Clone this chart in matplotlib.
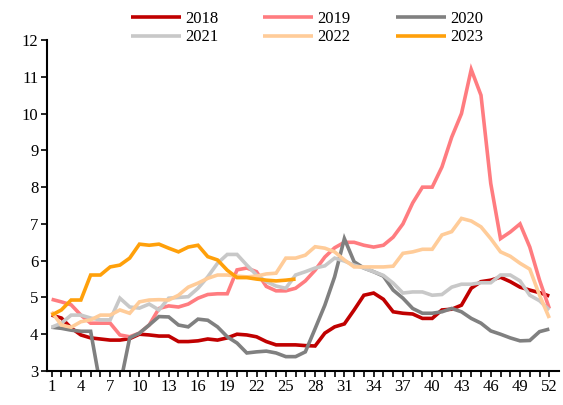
import matplotlib
matplotlib.use("Agg")
import matplotlib.pyplot as plt
import numpy as np

plt.rcParams["font.family"] = ["Liberation Serif", "DejaVu Serif"]

weeks = np.arange(1, 53)

y2018 = [4.52, 4.44, 4.17, 3.98, 3.9, 3.87, 3.84, 3.84, 3.88, 4.0, 3.98, 3.95,
         3.95, 3.8, 3.8, 3.82, 3.87, 3.84, 3.9, 4.0, 3.98, 3.93, 3.8, 3.71,
         3.71, 3.71, 3.69, 3.68, 4.03, 4.2, 4.28, 4.66, 5.06, 5.12, 4.95, 4.61,
         4.57, 4.55, 4.43, 4.43, 4.66, 4.68, 4.79, 5.25, 5.43, 5.47, 5.55, 5.43,
         5.28, 5.2, 5.13, 5.04]
y2019 = [4.95, 4.88, 4.8, 4.52, 4.3, 4.3, 4.3, 3.98, 3.93, 4.03, 4.25, 4.7,
         4.77, 4.74, 4.82, 4.98, 5.08, 5.1, 5.1, 5.75, 5.8, 5.7, 5.3, 5.18,
         5.18, 5.25, 5.45, 5.74, 6.1, 6.35, 6.5, 6.5, 6.42, 6.37, 6.42, 6.64,
         7.0, 7.57, 8.0, 8.0, 8.55, 9.36, 10.0, 11.2, 10.5, 8.1, 6.6, 6.78,
         7.0, 6.37, 5.47, 4.7]
y2020 = [4.19, 4.16, 4.11, 4.08, 4.08, 2.6, 2.5, 2.6, 3.9, 4.03, 4.25, 4.48,
         4.47, 4.25, 4.2, 4.41, 4.38, 4.2, 3.93, 3.76, 3.49, 3.52, 3.54, 3.49,
         3.39, 3.39, 3.52, 4.15, 4.79, 5.56, 6.6, 5.97, 5.8, 5.7, 5.58, 5.2,
         4.98, 4.7, 4.57, 4.57, 4.61, 4.7, 4.61, 4.43, 4.3, 4.09, 4.0, 3.9,
         3.82, 3.83, 4.07, 4.14]
y2021 = [4.19, 4.3, 4.52, 4.52, 4.44, 4.39, 4.39, 4.98, 4.74, 4.71, 4.82, 4.66,
         4.98, 5.0, 5.02, 5.25, 5.56, 5.93, 6.17, 6.17, 5.88, 5.61, 5.43, 5.31,
         5.25, 5.61, 5.7, 5.8, 5.86, 6.07, 5.99, 5.88, 5.8, 5.7, 5.6, 5.39,
         5.12, 5.15, 5.15, 5.06, 5.08, 5.28, 5.36, 5.36, 5.4, 5.4, 5.61, 5.61,
         5.45, 5.06, 4.91, 4.66]
y2022 = [4.61, 4.25, 4.19, 4.34, 4.39, 4.52, 4.52, 4.66, 4.57, 4.88, 4.93, 4.94,
         4.93, 5.06, 5.28, 5.39, 5.52, 5.61, 5.61, 5.58, 5.56, 5.58, 5.64, 5.66,
         6.07, 6.07, 6.15, 6.38, 6.34, 6.24, 6.02, 5.83, 5.83, 5.83, 5.83, 5.85,
         6.2, 6.24, 6.31, 6.31, 6.7, 6.79, 7.15, 7.08, 6.92, 6.6, 6.24, 6.12,
         5.93, 5.77, 5.06, 4.44]
y2023 = [4.52, 4.66, 4.93, 4.93, 5.61, 5.61, 5.83, 5.88, 6.07, 6.45, 6.42, 6.45,
         6.34, 6.24, 6.37, 6.42, 6.11, 6.02, 5.74, 5.54, 5.54, 5.5, 5.47, 5.45,
         5.47, 5.5]

series = [
    ("2018", y2018, "#C00000"),
    ("2019", y2019, "#FF7C80"),
    ("2020", y2020, "#808080"),
    ("2021", y2021, "#C8C8C8"),
    ("2022", y2022, "#FFCC99"),
    ("2023", y2023, "#FFA00A"),
]

fig = plt.figure(figsize=(5.63, 4.05), dpi=100)
ax = fig.add_axes([0.083, 0.084, 0.91, 0.817])

lines = []
for label, vals, color in series:
    ln, = ax.plot(weeks[:len(vals)], vals, color=color, lw=2.6, label=label,
                  solid_capstyle="butt", solid_joinstyle="miter")
    lines.append(ln)

ax.set_xlim(0.5, 53)
ax.set_ylim(3, 12)
ax.set_yticks(range(3, 13))
ax.set_xticks(weeks)
ax.set_xticklabels([str(w) if (w - 1) % 3 == 0 else "" for w in weeks])
ax.tick_params(axis="both", labelsize=12, colors="black", width=1.2, length=4,
               direction="out", pad=2)

for side in ("top", "right"):
    ax.spines[side].set_visible(False)
for side in ("left", "bottom"):
    ax.spines[side].set_linewidth(1.5)

# legend fills column by column, so reorder to read row by row
order = [0, 3, 1, 4, 2, 5]
fig.legend([lines[i] for i in order], [series[i][0] for i in order],
           loc="upper center", bbox_to_anchor=(0.545, 1.01), ncol=3,
           frameon=False, fontsize=12, handlelength=3.0, handletextpad=0.25,
           columnspacing=2.7, labelspacing=0.15)

fig.savefig("out.png", dpi=100, facecolor="white")
